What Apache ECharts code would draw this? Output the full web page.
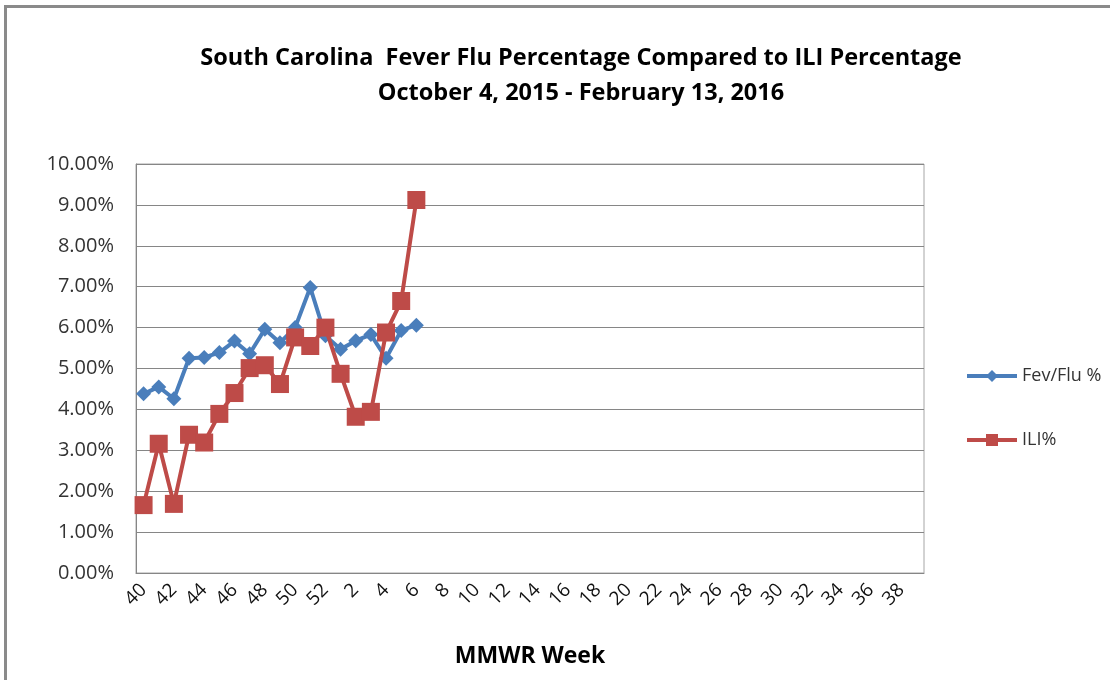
<!DOCTYPE html>
<html>
<head>
<meta charset="utf-8">
<script src="https://cdn.jsdelivr.net/npm/echarts@6/dist/echarts.min.js"></script>
<style>
  body { margin: 0; background: #fff; }
  #chart { width: 1110px; height: 680px; }
  #frame { position: absolute; left: 4px; top: 5px; width: 1110px; height: 680px;
           border-top: 3px solid #8a8a8a; border-left: 3px solid #8a8a8a; pointer-events: none; }
</style>
</head>
<body>
<div id="chart"></div>
<div id="frame"></div>
<script>
// MMWR weeks 40-52 of 2015, then 1-39 of 2016
var weeks = [];
for (var w = 40; w <= 52; w++) weeks.push(String(w));
for (var w2 = 1; w2 <= 39; w2++) weeks.push(String(w2));

// percent values
var fevFlu = [4.38, 4.55, 4.26, 5.25, 5.27, 5.39, 5.67, 5.36, 5.96, 5.63, 6.0, 6.98, 5.8, 5.47, 5.68, 5.83, 5.25, 5.93, 6.06];
var ili = [1.66, 3.16, 1.69, 3.38, 3.19, 3.89, 4.4, 5.01, 5.08, 4.62, 5.76, 5.55, 6.0, 4.87, 3.82, 3.94, 5.88, 6.65, 9.12];

var font = 'Open Sans';

var chart = echarts.init(document.getElementById('chart'));

var option = {
    animation: false,
    title: {
        text: 'South Carolina  Fever Flu Percentage Compared to ILI Percentage\nOctober 4, 2015 - February 13, 2016',
        left: 576,
        textAlign: 'center',
        top: 36,
        textStyle: {
            fontFamily: font,
            fontSize: 23.5,
            fontWeight: 'bold',
            color: '#000',
            lineHeight: 35
        }
    },
    legend: {
        orient: 'vertical',
        left: 960,
        top: 362,
        itemGap: 46,
        itemWidth: 50,
        itemHeight: 15,
        lineStyle: { width: 4 },
        textStyle: { fontFamily: font, fontSize: 18, color: '#333' },
        data: ['Fev/Flu %', 'ILI%']
    },
    grid: {
        left: 136,
        right: 186,
        top: 164,
        bottom: 107,
        show: true,
        borderColor: '#a6a6a6',
        borderWidth: 1
    },
    xAxis: {
        type: 'category',
        data: weeks,
        boundaryGap: true,
        name: 'MMWR Week',
        nameLocation: 'middle',
        nameGap: 72,
        nameTextStyle: { fontFamily: font, fontSize: 23, fontWeight: 'bold', color: '#000' },
        axisLine: { lineStyle: { color: '#868686' } },
        axisTick: { show: false },
        axisLabel: {
            interval: 1,
            rotate: 45,
            margin: 14,
            fontFamily: font,
            fontSize: 19,
            color: '#111'
        }
    },
    yAxis: {
        type: 'value',
        min: 0,
        max: 10,
        interval: 1,
        axisLine: { show: true, lineStyle: { color: '#868686' } },
        axisTick: { show: false },
        splitLine: { lineStyle: { color: '#868686', width: 1 } },
        axisLabel: {
            margin: 22,
            fontFamily: font,
            fontSize: 20,
            color: '#333',
            formatter: function (v) { return v.toFixed(2) + '%'; }
        }
    },
    series: [
        {
            name: 'Fev/Flu %',
            type: 'line',
            data: fevFlu,
            symbol: 'diamond',
            symbolSize: 15,
            showAllSymbol: true,
            color: '#4a7ebb',
            lineStyle: { width: 4 },
            z: 2
        },
        {
            name: 'ILI%',
            type: 'line',
            data: ili,
            symbol: 'rect',
            symbolSize: 18,
            showAllSymbol: true,
            color: '#be4b48',
            lineStyle: { width: 4 },
            z: 3
        }
    ]
};

chart.setOption(option);
</script>
</body>
</html>
